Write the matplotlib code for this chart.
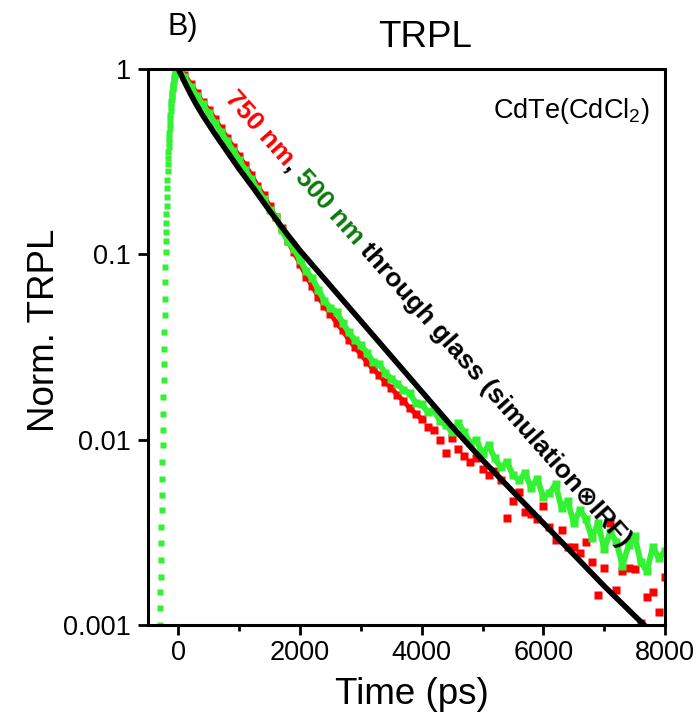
import numpy as np
import matplotlib
matplotlib.use("Agg")
import matplotlib.pyplot as plt
from matplotlib.transforms import IdentityTransform

plt.rcParams['font.family'] = ['Liberation Sans', 'DejaVu Sans']
plt.rcParams['mathtext.fontset'] = 'custom'
plt.rcParams['mathtext.rm'] = 'Liberation Sans'
plt.rcParams['mathtext.it'] = 'Liberation Sans:italic'
plt.rcParams['mathtext.bf'] = 'Liberation Sans:bold'

# ---------------- data (log10 of normalised TRPL) -------------
green_rise_t = [-312, -308, -304, -300, -296, -292, -288, -284, -280, -276, -272, -268,
                -264, -260, -256, -252, -248, -244, -240, -236, -232, -228, -224, -220,
                -216, -212, -208, -204, -200, -196, -192, -188, -184, -180, -176, -172,
                -168, -164, -160, -156, -152, -148, -144, -140, -136, -132, -128, -124,
                -120, -116, -112, -108, -104, -100, -96, -92, -88, -84, -80, -76, -72,
                -68, -64, -60, -56, -52, -48, -44, -40, -36, -32, -28, -24, -20, -16,
                -12, -8, -4]
green_rise_log = [-3.18, -3.09, -3.00, -2.91, -2.82, -2.74, -2.65, -2.56, -2.47, -2.38,
                  -2.30, -2.21, -2.12, -2.03, -1.95, -1.86, -1.77, -1.68, -1.59, -1.51,
                  -1.42, -1.33, -1.24, -1.15, -1.07, -0.99, -0.93, -0.88, -0.83, -0.78,
                  -0.74, -0.69, -0.64, -0.60, -0.55, -0.51, -0.48, -0.45, -0.42, -0.395,
                  -0.37, -0.345, -0.32, -0.295, -0.27, -0.25, -0.225, -0.205, -0.19,
                  -0.175, -0.16, -0.15, -0.135, -0.125, -0.11, -0.10, -0.09, -0.08,
                  -0.07, -0.06, -0.05, -0.045, -0.04, -0.035, -0.03, -0.025, -0.02,
                  -0.017, -0.014, -0.011, -0.008, -0.006, -0.004, -0.002, -0.001, 0.0,
                  0.0, 0.0]

decay_t = list(range(0, 8001, 100))
green_log = [0.0, -0.045, -0.095, -0.145, -0.19, -0.24, -0.29, -0.34, -0.39, -0.44,
             -0.49, -0.545, -0.595, -0.65, -0.70, -0.76, -0.80, -0.87, -0.93, -0.97,
             -1.03, -1.09, -1.13, -1.19, -1.25, -1.29, -1.31, -1.37, -1.42, -1.46,
             -1.49, -1.53, -1.58, -1.59, -1.64, -1.67, -1.70, -1.73, -1.75, -1.80,
             -1.81, -1.85, -1.84, -1.90, -1.92, -1.96, -1.91, -1.96, -2.02, -2.00,
             -2.08, -2.03, -2.10, -2.15, -2.12, -2.19, -2.22, -2.18, -2.26, -2.21,
             -2.31, -2.29, -2.24, -2.37, -2.33, -2.45, -2.38, -2.43, -2.53, -2.45,
             -2.59, -2.50, -2.55, -2.68, -2.57, -2.52, -2.66, -2.71, -2.58, -2.64,
             -2.60]

red_early_t = list(range(0, 4001, 100))
red_early_log = [0.0, -0.03, -0.08, -0.13, -0.18, -0.22, -0.27, -0.32, -0.37, -0.42,
                 -0.47, -0.52, -0.57, -0.63, -0.68, -0.74, -0.80, -0.86, -0.93, -0.99,
                 -1.05, -1.12, -1.17, -1.23, -1.28, -1.32, -1.37, -1.41, -1.46, -1.50,
                 -1.54, -1.58, -1.62, -1.65, -1.69, -1.72, -1.76, -1.79, -1.83, -1.86,
                 -1.89]
red_late_t = list(range(4100, 8001, 100))
red_late_log = [-1.93, -1.95, -2.00, -2.07, -1.99, -2.05, -2.09, -2.12, -2.10, -2.16,
                -2.19, -2.17, -2.22, -2.42, -2.33, -2.28, -2.39, -2.40, -2.43, -2.36,
                -2.47, -2.54, -2.49, -2.58, -2.58, -2.61, -2.55, -2.66, -2.84, -2.69,
                -2.45, -2.81, -2.71, -2.69, -2.70, -2.99, -2.85, -2.82, -2.93, -2.74]

sim_t = [0, 100, 200, 300, 400, 500, 600, 800, 1000, 1250, 1500, 1750, 2000, 2250,
         2500, 2750, 3000, 3250, 3500, 3750, 4000, 4250, 4500, 4750, 5000, 5250, 5500,
         5750, 6000, 6250, 6500, 6750, 7000, 7250, 7500, 7750]
sim_log = [0.0, -0.07, -0.135, -0.195, -0.25, -0.30, -0.35, -0.445, -0.54, -0.65,
           -0.765, -0.875, -0.98, -1.075, -1.17, -1.265, -1.36, -1.455, -1.55, -1.645,
           -1.74, -1.835, -1.93, -2.02, -2.11, -2.195, -2.28, -2.365, -2.45, -2.535,
           -2.62, -2.705, -2.79, -2.87, -2.95, -3.03]

x_ticks = [0, 2000, 4000, 6000, 8000]
y_ticks = [1, 0.1, 0.01, 0.001]
y_ticklabels = ['1', '0.1', '0.01', '0.001']

RED = '#ff0000'
GREEN = '#33f233'
DKGREEN = '#0a7a0a'

W, H = 699, 724
fig = plt.figure(figsize=(W / 100, H / 100), dpi=100)
L, R, T, B = 148, 665, 69, 625
ax = fig.add_axes([L / W, 1 - B / H, (R - L) / W, (B - T) / H])

p = lambda a: np.power(10.0, np.asarray(a, dtype=float))

ax.plot(red_early_t, p(red_early_log), color=RED, marker='s', ms=6, lw=3.5,
        mec='none', solid_joinstyle='miter')
ax.plot(red_late_t, p(red_late_log), color=RED, marker='s', ms=6, ls='none', mec='none')
ax.plot(green_rise_t, p(green_rise_log), color=GREEN, marker='s', ms=4.2, ls='none', mec='none')
ax.plot(decay_t, p(green_log), color=GREEN, marker='s', ms=6, lw=4.2, mec='none')
ax.plot(sim_t, p(sim_log), color='black', lw=4)

ax.set_yscale('log')
ax.set_xlim(-500, 8000)
ax.set_ylim(0.001, 1)
ax.set_xticks(x_ticks)
ax.set_xticks(range(1000, 8000, 2000), minor=True)
ax.set_yticks(y_ticks)
ax.set_yticklabels(y_ticklabels)
ax.yaxis.set_minor_locator(matplotlib.ticker.NullLocator())
ax.tick_params(axis='both', which='major', direction='out', length=7, width=2,
               labelsize=19.5)
ax.tick_params(axis='x', which='major', pad=3.5)
ax.tick_params(axis='y', which='major', pad=5.5)
ax.tick_params(axis='x', which='minor', direction='out', length=4.3, width=2)
for s in ax.spines.values():
    s.set_linewidth(2.2)

ax.set_xlabel('Time (ps)', fontsize=26.5)
ax.xaxis.set_label_coords((412 - L) / (R - L), -(695 - B) / (B - T))
ax.xaxis.label.set_va('center')
ax.set_ylabel('Norm. TRPL', fontsize=26.5)
ax.yaxis.set_label_coords((45 - L) / (R - L), (B - 330) / (B - T))
ax.yaxis.label.set_va('center')

fig.text(425 / W, 1 - 47 / H, 'TRPL', fontsize=26.5, ha='center', va='baseline')
fig.text(167 / W, 1 - 35 / H, 'B)', fontsize=22, ha='left', va='baseline')
ax.text(650 / W, 1 - 118 / H, r'CdTe(CdCl$_2$)', fontsize=19.5, ha='right',
        va='baseline', transform=fig.transFigure)

# multi-coloured rotated annotation
fig.canvas.draw()
renderer = fig.canvas.get_renderer()
pieces = [('750 nm', RED), (', ', 'black'), ('500 nm', DKGREEN),
          (' through glass (simulation\u2297IRF)', 'black')]
fs = 19
kw = dict(fontsize=fs, fontweight='bold', family=['Liberation Sans', 'DejaVu Sans'])
ang = -48.5
rad = np.deg2rad(ang)
x0, y0 = 224, H - 99


def width(s):
    t1 = fig.text(0, 0, s + '|', **kw)
    t2 = fig.text(0, 0, '|', **kw)
    w = t1.get_window_extent(renderer).width - t2.get_window_extent(renderer).width
    t1.remove(); t2.remove()
    return w

prefix = ''
for s, c in pieces:
    d = width(prefix) if prefix else 0.0
    fig.text(x0 + d * np.cos(rad), y0 + d * np.sin(rad), s, color=c, rotation=ang,
             rotation_mode='anchor', ha='left', va='baseline',
             transform=IdentityTransform(), **kw)
    prefix += s

fig.savefig('out.png', dpi=100)
